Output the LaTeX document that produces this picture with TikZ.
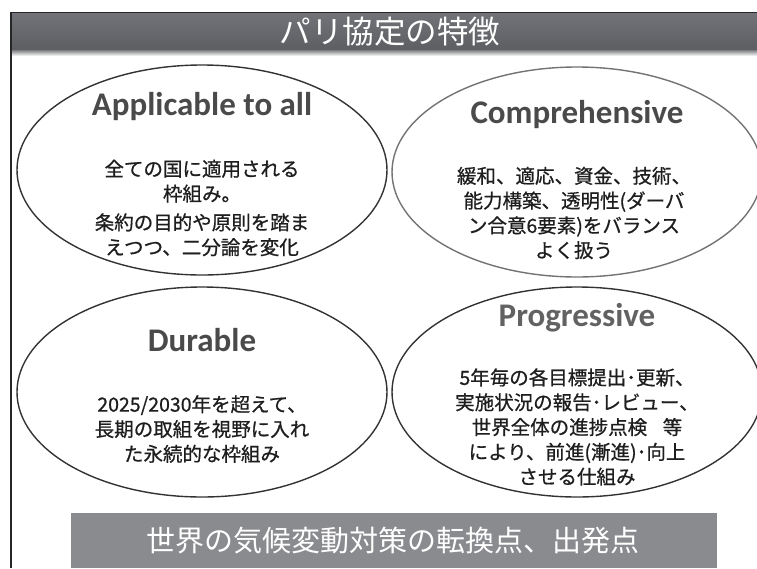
\documentclass[tikz,border=0pt]{standalone}
\usepackage{fontspec}
\setmainfont{Carlito}
\newfontfamily\jp[FakeBold=0.7]{Noto Sans CJK JP}
\newfontfamily\jpt{Noto Sans CJK JP}
\usetikzlibrary{shapes.geometric}
\definecolor{barA}{HTML}{727378}
\definecolor{barB}{HTML}{5D5E62}
\definecolor{foot}{HTML}{8A8B8F}
\definecolor{head}{HTML}{4A4A4A}
\definecolor{headl}{HTML}{626262}
\definecolor{body}{HTML}{1E1E1E}
\tikzset{
  oval/.style={ellipse, draw=#1, line width=1.4pt, minimum width=370pt, minimum height=210pt, inner sep=0pt},
  headtxt/.style={text=head, font=\bfseries\fontsize{33}{37}\selectfont, inner sep=0pt},
  bodytxt/.style={text=body, align=center, font=\jp\fontsize{19.5}{24.8}\selectfont, inner sep=0pt},
}
\begin{document}
\begin{tikzpicture}[x=1pt,y=-1pt]
\useasboundingbox (0,0) rectangle (757,568);
\fill[white] (0,0) rectangle (757,568);
% title bar
\shade[top color=barA, bottom color=barB] (11,13) rectangle (757,50);
\shade[top color=barB!80!white, bottom color=white] (11,50) rectangle (757,56);
\node[text=white, font=\jpt\fontsize{31.5}{34}\selectfont, inner sep=0pt] (title) at (390,32) {パリ協定の特徴};
% frame
\draw[line width=1.5pt, color=black!85] (11,568) -- (11,12.5) -- (757,12.5);
% ellipses
\node[oval=black!80] (e1) at (202,170) {};
\node[oval=black!55] (e2) at (577,172) {};
\node[oval=black!80] (e3) at (202,392) {};
\node[oval=black!80] (e4) at (577,392) {};
% texts
\node[headtxt] (h1) at (202,107) {Applicable to all};
\node[bodytxt] (b1) at (202,208) {全ての国に適用される\\枠組み。\\[4pt]条約の目的や原則を踏ま\\えつつ、二分論を変化};
\node[headtxt] (h2) at (577,115) {Comprehensive};
\node[bodytxt] (b2) at (574,213) {緩和、適応、資金、技術、\\能力構築、透明性(ダーバ\\ン合意6要素)をバランス\\よく扱う};
\node[headtxt] (h3) at (202,340) {Durable};
\node[bodytxt] (b3) at (202,429) {2025/2030年を超えて、\\長期の取組を視野に入れ\\た永続的な枠組み};
\node[headtxt, text=headl] (h4) at (577,318) {Progressive};
\node[bodytxt] (b4) at (577,427) {5年毎の各目標提出･更新、\\実施状況の報告･レビュー、\\世界全体の進捗点検\hspace{0.8em}等\\により、前進(漸進)･向上\\させる仕組み};
% footer bar
\fill[foot] (71,513) rectangle (717,568);
\node[text=white, font=\jpt\fontsize{29}{32}\selectfont, inner sep=0pt] (foot) at (393,541) {世界の気候変動対策の転換点、出発点};
\end{tikzpicture}
\end{document}
